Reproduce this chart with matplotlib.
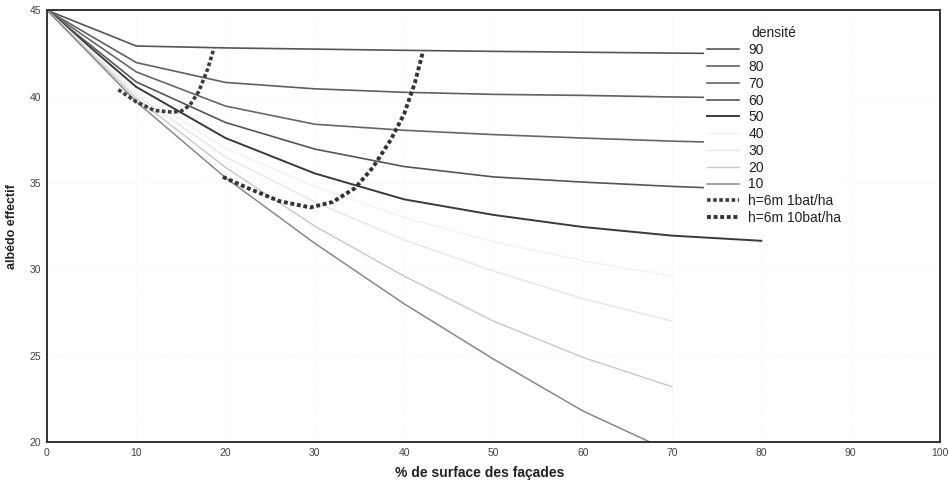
import matplotlib
matplotlib.use("Agg")
import matplotlib.pyplot as plt

plt.rcParams['font.family'] = ['Liberation Sans', 'DejaVu Sans']

# facade share (%) at which each density curve is sampled
x_full = [0, 10, 20, 30, 40, 50, 60, 70, 80]
x_short = [0, 10, 20, 30, 40, 50, 60, 70]

d90 = [45, 42.93, 42.82, 42.75, 42.68, 42.62, 42.57, 42.52, 42.48]
d80 = [45, 41.97, 40.82, 40.45, 40.25, 40.13, 40.07, 39.98, 39.92]
d70 = [45, 41.43, 39.45, 38.4, 38.05, 37.8, 37.6, 37.42, 37.3]
d60 = [45, 40.85, 38.5, 36.96, 35.95, 35.35, 35.05, 34.8, 34.6]
d50 = [45, 40.56, 37.6, 35.55, 34.05, 33.15, 32.45, 31.95, 31.65]
d40 = [45, 40.3, 37.0, 34.8, 33.0, 31.6, 30.5, 29.6]
d30 = [45, 40.1, 36.5, 33.9, 31.7, 29.9, 28.3, 27.0]
d20 = [45, 39.9, 35.9, 32.5, 29.6, 27.0, 24.9, 23.2]
d10 = [45, 39.7, 35.3, 31.5, 28.0, 24.8, 21.8, 19.4]

# building scenarios h=6m
x_1bat = [8, 10, 12, 14, 15, 16, 17, 18, 18.7]
y_1bat = [40.4, 39.7, 39.2, 39.1, 39.15, 39.5, 40.3, 41.6, 42.8]
x_10bat = [19.7, 22.5, 26, 29.5, 32, 34.5, 36.5, 38.5, 40, 41.2, 42.1]
y_10bat = [35.35, 34.7, 33.95, 33.58, 33.9, 34.7, 35.9, 37.5, 39.0, 40.8, 42.6]

fig = plt.figure(figsize=(9.49, 4.84), dpi=100)
ax = fig.add_axes([0.0495, 0.0868, 0.941, 0.892])

series = [
    ("90", x_full, d90, "#555555", 1.2),
    ("80", x_full, d80, "#606060", 1.2),
    ("70", x_full, d70, "#666666", 1.2),
    ("60", x_full, d60, "#555555", 1.2),
    ("50", x_full, d50, "#3a3a3a", 1.4),
    ("40", x_short, d40, "#f2f2f2", 1.0),
    ("30", x_short, d30, "#e6e6e6", 1.0),
    ("20", x_short, d20, "#c8c8c8", 1.0),
    ("10", x_short, d10, "#888888", 1.1),
]
for lab, xs, ys, col, lw in series:
    ax.plot(xs, ys, color=col, lw=lw, label=lab)

ax.plot(x_1bat, y_1bat, color="#3c3c3c", lw=2.6, ls=(0, (1, 0.7)), label="h=6m 1bat/ha")
ax.plot(x_10bat, y_10bat, color="#333333", lw=2.8, ls=(0, (1, 0.7)), label="h=6m 10bat/ha")

ax.set_xlim(0, 100)
ax.set_ylim(20, 45)
ax.set_xticks(range(0, 101, 10))
ax.set_yticks(range(20, 46, 5))
ax.grid(True, color="#f0f0f0", lw=0.6, ls=":")
ax.tick_params(length=0, labelsize=7.5, colors="#444444", pad=4)
for t in ax.get_xticklabels() + ax.get_yticklabels():
    t.set_family(['Liberation Sans Narrow', 'Liberation Sans'])
for s in ax.spines.values():
    s.set_color("#333333")
    s.set_linewidth(1.4)

ax.set_xlabel("% de surface des façades", fontsize=10, fontweight="bold", color="#222222")
ax.xaxis.set_label_coords(0.485, -0.055)
ax.set_ylabel("albédo effectif", fontsize=9, fontweight="bold", color="#222222")
ax.yaxis.set_label_coords(-0.032, 0.5)

leg = ax.legend(title="densité", loc="upper left", bbox_to_anchor=(0.728, 0.985),
                fontsize=10, title_fontsize=10, labelspacing=0.2, handlelength=2.3,
                handletextpad=0.7, borderpad=0.2, frameon=True, framealpha=1,
                facecolor="white", edgecolor="none", fancybox=False)
leg.get_title().set_color("#222222")
for t in leg.get_texts():
    t.set_color("#222222")

fig.savefig("out.png", dpi=100)
